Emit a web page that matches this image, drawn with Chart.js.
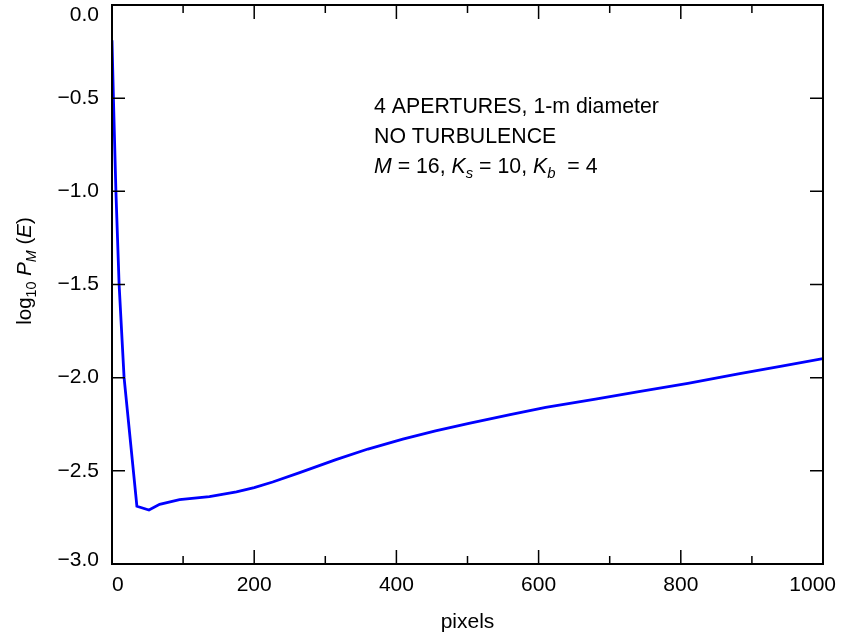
<!DOCTYPE html>
<html>
<head>
<meta charset="utf-8">
<title>log10 PM(E) vs pixels</title>
<script src="https://cdn.jsdelivr.net/npm/chart.js@4/dist/chart.umd.min.js"></script>
<style>
  html, body { margin: 0; padding: 0; background: #fff; }
  canvas { display: block; }
</style>
</head>
<body>
<canvas id="grafico" width="841" height="640"></canvas>
<script>
// dados
const pixels = [0, 2, 5.5, 10, 17, 35, 52, 67, 95, 137, 175, 200, 226, 264, 315, 360, 409, 455, 502, 560, 610, 680, 741, 810, 881, 940, 1000];
const logPM = [-0.19, -0.5, -1.0, -1.5, -2.0, -2.69, -2.71, -2.68, -2.655, -2.638, -2.613, -2.59, -2.56, -2.51, -2.44, -2.383, -2.33, -2.286, -2.245, -2.198, -2.16, -2.115, -2.075, -2.03, -1.98, -1.94, -1.898];

const xTicks = [0, 200, 400, 600, 800, 1000];
const xMinorTicks = [100, 300, 500, 700, 900];
const yTicks = [0, -0.5, -1.0, -1.5, -2.0, -2.5, -3.0];

const notaLinhas = [
  [{ t: '4 APERTURES, 1-m diameter' }],
  [{ t: 'NO TURBULENCE' }],
  [{ t: 'M', i: true }, { t: ' = 16, ' }, { t: 'K', i: true }, { t: 's', i: true, sub: true }, { t: ' = 10, ' }, { t: 'K', i: true }, { t: 'b', i: true, sub: true }, { t: '  = 4' }]
];
const tituloY = [{ t: 'log' }, { t: '10', sub: true }, { t: ' ' }, { t: 'P', i: true }, { t: 'M', i: true, sub: true }, { t: ' (' }, { t: 'E', i: true }, { t: ')' }];

const FONTE = '"Liberation Sans", Arial, Helvetica, sans-serif';

function fonte(seg, tam) {
  const t = seg.sub ? tam * 0.7 : tam;
  return (seg.i ? 'italic ' : '') + t + 'px ' + FONTE;
}

function larguraRica(ctx, segs, tam) {
  return segs.reduce((soma, s) => {
    ctx.font = fonte(s, tam);
    return soma + ctx.measureText(s.t).width;
  }, 0);
}

function desenhaRica(ctx, segs, x, y, tam) {
  ctx.textBaseline = 'alphabetic';
  ctx.textAlign = 'left';
  segs.forEach(s => {
    ctx.font = fonte(s, tam);
    ctx.fillText(s.t, x, y + (s.sub ? tam * 0.25 : 0));
    x += ctx.measureText(s.t).width;
  });
}

const eixosPlugin = {
  id: 'eixos',
  afterDatasetsDraw(chart) {
    const ctx = chart.ctx;
    const a = chart.chartArea;
    const sx = chart.scales.x;
    const sy = chart.scales.y;
    ctx.save();
    ctx.strokeStyle = '#000';
    ctx.fillStyle = '#000';

    // moldura
    ctx.lineWidth = 2;
    ctx.strokeRect(a.left, a.top, a.right - a.left, a.bottom - a.top);

    // marcas para dentro, nos quatro lados
    ctx.lineWidth = 1.5;
    ctx.beginPath();
    xTicks.forEach(v => {
      const px = sx.getPixelForValue(v);
      ctx.moveTo(px, a.bottom); ctx.lineTo(px, a.bottom - 14);
      ctx.moveTo(px, a.top); ctx.lineTo(px, a.top + 14);
    });
    xMinorTicks.forEach(v => {
      const px = sx.getPixelForValue(v);
      ctx.moveTo(px, a.bottom); ctx.lineTo(px, a.bottom - 8);
      ctx.moveTo(px, a.top); ctx.lineTo(px, a.top + 8);
    });
    yTicks.forEach(v => {
      const py = sy.getPixelForValue(v);
      ctx.moveTo(a.left, py); ctx.lineTo(a.left + 13, py);
      ctx.moveTo(a.right, py); ctx.lineTo(a.right - 13, py);
    });
    ctx.stroke();

    // rótulos
    ctx.font = '21px ' + FONTE;
    ctx.textBaseline = 'alphabetic';
    xTicks.forEach(v => {
      const txt = String(v);
      const w = ctx.measureText(txt).width;
      let cx = sx.getPixelForValue(v);
      cx = Math.max(cx, a.left + w / 2);
      cx = Math.min(cx, 836 - w / 2);
      ctx.textAlign = 'center';
      ctx.fillText(txt, cx, a.bottom + 27);
    });
    ctx.textAlign = 'right';
    ctx.textBaseline = 'middle';
    yTicks.forEach(v => {
      const txt = (v < 0 ? '\u2212' : '') + Math.abs(v).toFixed(1);
      let py = sy.getPixelForValue(v);
      py = Math.max(py, a.top + 10);
      py = Math.min(py, a.bottom - 4);
      ctx.fillText(txt, a.left - 13, py);
    });

    // título do eixo x
    ctx.textAlign = 'center';
    ctx.textBaseline = 'alphabetic';
    ctx.font = '21px ' + FONTE;
    ctx.fillText('pixels', (a.left + a.right) / 2, 628);

    // título do eixo y (girado)
    ctx.save();
    ctx.translate(31, 271);
    ctx.rotate(-Math.PI / 2);
    const wy = larguraRica(ctx, tituloY, 20.5);
    desenhaRica(ctx, tituloY, -wy / 2, 0, 20.5);
    ctx.restore();

    // anotação
    const bases = [113, 143, 173];
    notaLinhas.forEach((linha, i) => desenhaRica(ctx, linha, 374, bases[i], 21.3));

    ctx.restore();
  }
};

const ctx = document.getElementById('grafico').getContext('2d');
new Chart(ctx, {
  type: 'line',
  data: {
    datasets: [{
      data: pixels.map((p, i) => ({ x: p, y: logPM[i] })),
      borderColor: '#0000ff',
      borderWidth: 2.8,
      pointRadius: 0,
      tension: 0,
      fill: false
    }]
  },
  options: {
    responsive: false,
    animation: false,
    devicePixelRatio: 1,
    layout: { padding: { left: 112, top: 5, right: 18, bottom: 76 } },
    plugins: { legend: { display: false }, tooltip: { enabled: false } },
    scales: {
      x: { type: 'linear', min: 0, max: 1000, display: false },
      y: { type: 'linear', min: -3, max: 0, display: false }
    }
  },
  plugins: [eixosPlugin]
});
</script>
</body>
</html>
